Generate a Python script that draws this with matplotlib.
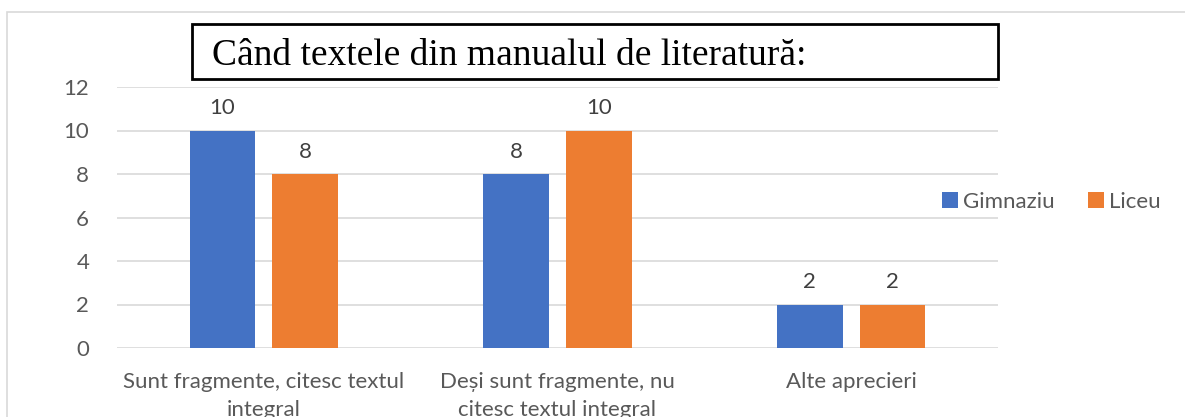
import matplotlib.pyplot as plt
from matplotlib.patches import Rectangle
import numpy as np

categories = ["Sunt fragmente, citesc textul\nintegral",
              "Deși sunt fragmente, nu\ncitesc textul integral",
              "Alte aprecieri"]
gimnaziu = [10, 8, 2]
liceu = [8, 10, 2]
series_names = ["Gimnaziu", "Liceu"]
title = "Când textele din manualul de literatură:"

W, H = 1185, 417
fig = plt.figure(figsize=(W / 100, H / 100), dpi=100)
plt.rcParams['font.family'] = ['Lato', 'DejaVu Sans']

# outer chart frame (light gray, cut off at right and bottom)
fig.patches.append(Rectangle((7 / W, -0.1), 1.2, (H - 12) / H + 0.1,
                             transform=fig.transFigure, fill=False,
                             edgecolor='#d9d9d9', linewidth=1.2))

ax = fig.add_axes([117 / W, (H - 348) / H, (998 - 117) / W, (348 - 87) / H])
x = np.arange(len(categories))
bw = 0.224
off = 0.141
b1 = ax.bar(x - off, gimnaziu, bw, color='#4472c4', label=series_names[0], zorder=3)
b2 = ax.bar(x + off, liceu, bw, color='#ed7d31', label=series_names[1], zorder=3)
for bars in (b1, b2):
    ax.bar_label(bars, padding=9, fontsize=16, color='#404040')

ax.set_xlim(-0.5, 2.5)
ax.set_ylim(0, 12)
ax.set_yticks(range(0, 13, 2))
ax.grid(axis='y', color='#d9d9d9', linewidth=1.2, zorder=0)
for s in ax.spines.values():
    s.set_visible(False)
ax.tick_params(length=0)
ax.tick_params(axis='y', labelsize=16, labelcolor='#595959', pad=20)
ax.set_xticks(x)
ax.set_xticklabels(categories, fontsize=16, color='#595959', linespacing=1.55)
ax.tick_params(axis='x', pad=17)

ax.legend(loc='center left', bbox_to_anchor=(922 / W, (H - 202) / H),
          bbox_transform=fig.transFigure, ncol=2, frameon=False,
          fontsize=16, labelcolor='#595959', handlelength=0.7,
          handleheight=0.7, handletextpad=0.25, columnspacing=1.5)

# title in a black box
fig.patches.append(Rectangle((192 / W, (H - 79) / H), (998 - 192) / W, 55 / H,
                             transform=fig.transFigure, fill=True,
                             facecolor='white', edgecolor='black',
                             linewidth=2, zorder=5))
fig.text(212 / W, (H - 56) / H, title, family='Liberation Serif',
         fontsize=27, va='center', ha='left', color='black', zorder=6)

fig.savefig('out.png', dpi=100)
